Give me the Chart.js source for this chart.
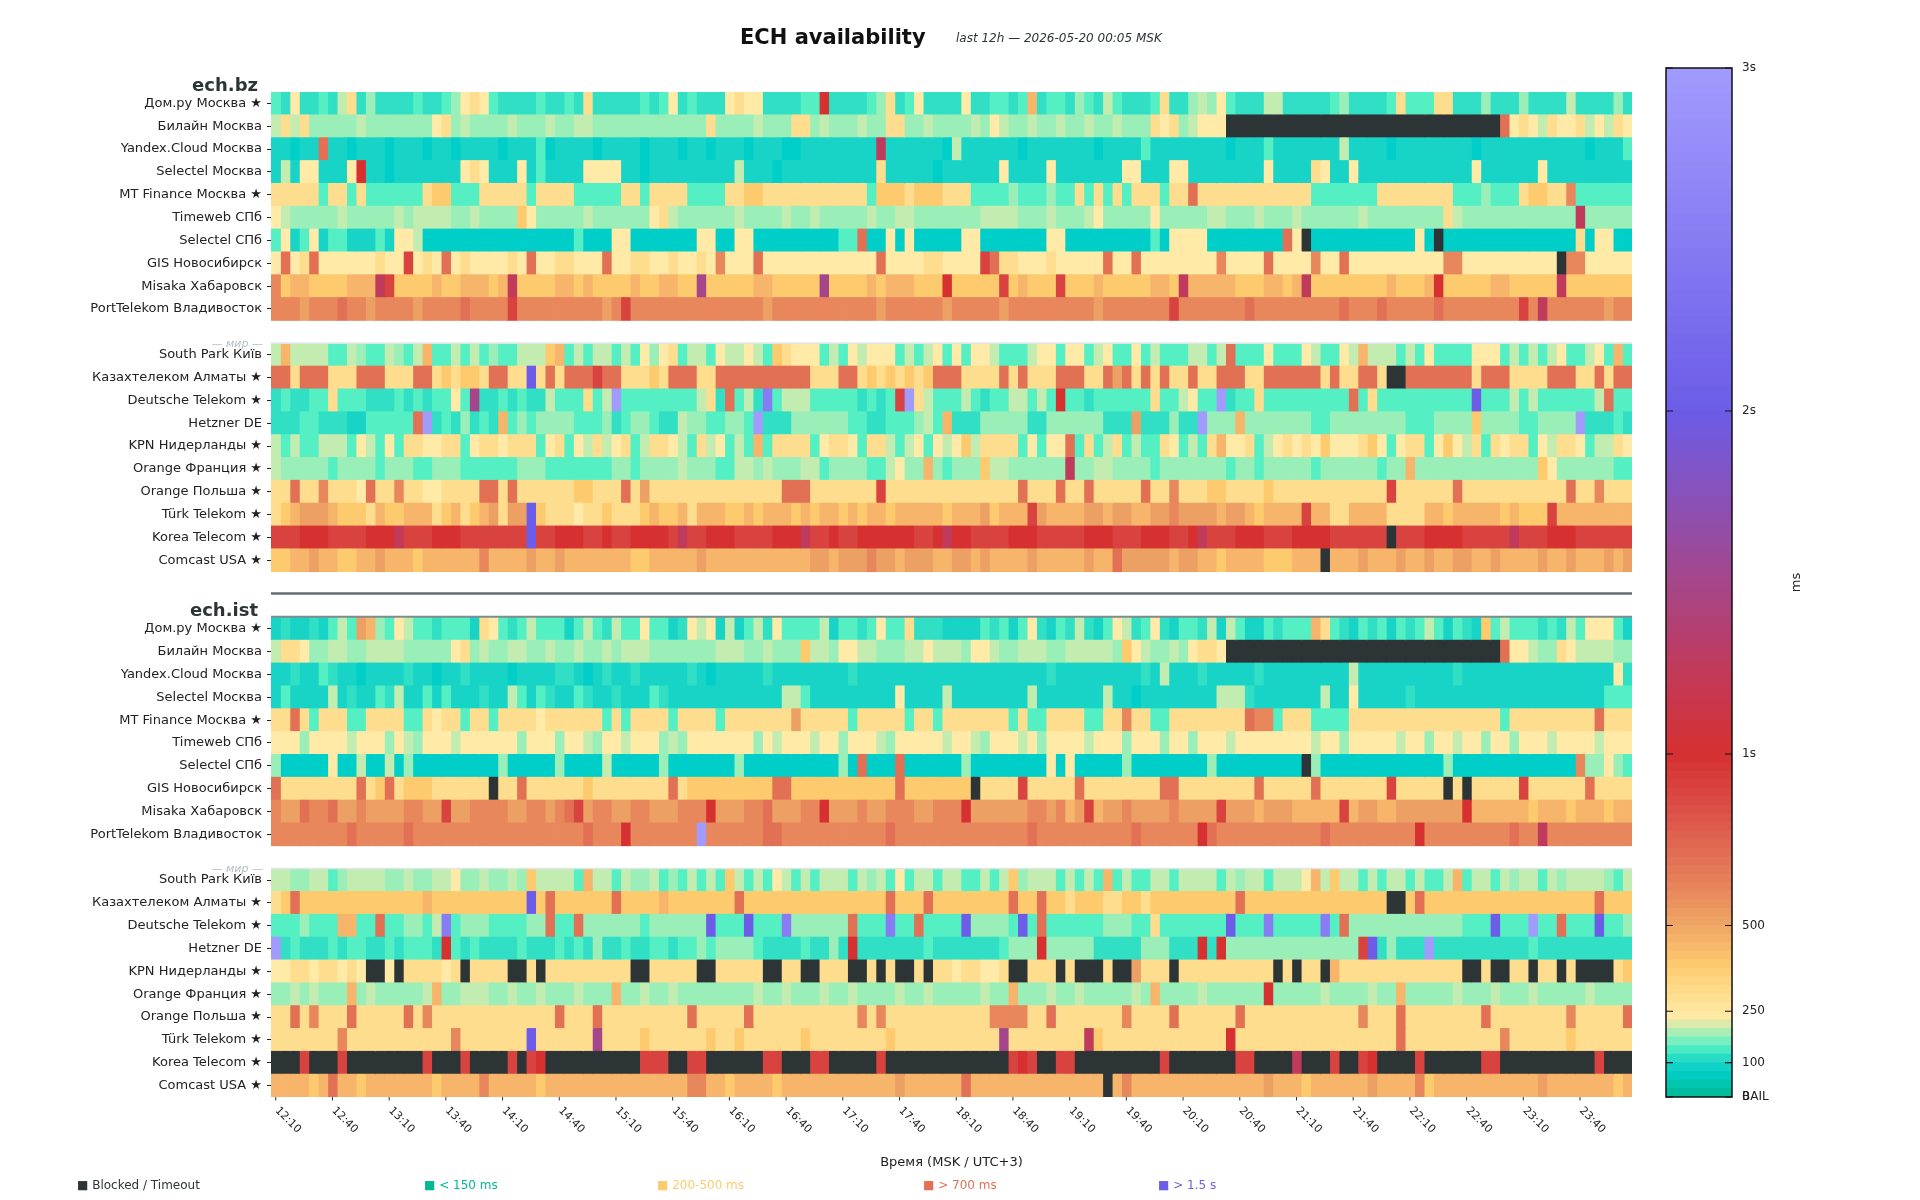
<!DOCTYPE html>
<html><head><meta charset="utf-8">
<script src="https://cdn.jsdelivr.net/npm/chart.js@4.4.1/dist/chart.umd.min.js"></script>
<style>
html,body{margin:0;padding:0;background:#fff;}
#wrap{position:relative;width:1920px;height:1200px;overflow:hidden;}
#main{position:absolute;left:0;top:0;}
#cbar{position:absolute;left:1560px;top:0;}
</style></head><body>
<div id="wrap"><canvas id="main" width="1920" height="1200"></canvas><canvas id="cbar" width="360" height="1200"></canvas></div>
<script>
// ---------------- DATA ----------------
const titleText = 'ECH availability';
const subtitleText = 'last 12h — 2026-05-20 00:05 MSK';
const xAxisTitle = 'Время (MSK / UTC+3)';
const separatorText = '— мир —';
const groupNames = ['ech.bz', 'ech.ist'];
const rowLabelsRU = ['Дом.ру Москва ★','Билайн Москва','Yandex.Cloud Москва','Selectel Москва','MT Finance Москва ★','Timeweb СПб','Selectel СПб','GIS Новосибирск','Misaka Хабаровск','PortTelekom Владивосток'];
const rowLabelsWorld = ['South Park Київ','Казахтелеком Алматы ★','Deutsche Telekom ★','Hetzner DE','KPN Нидерланды ★','Orange Франция ★','Orange Польша ★','Türk Telekom ★','Korea Telecom ★','Comcast USA ★'];
const nColumns = 144; // 5-minute slots from 12:10
const tickLabels = ['12:10','12:40','13:10','13:40','14:10','14:40','15:10','15:40','16:10','16:40','17:10','17:40','18:10','18:40','19:10','19:40','20:10','20:40','21:10','21:40','22:10','22:40','23:10','23:40'];
const tickColumns = [0,6,12,18,24,30,36,42,48,54,60,66,72,78,84,90,96,102,108,114,120,126,132,138];
// cell codes: X = blocked / timeout, letters = latency level
const levelCodes = 'abcdefghijklmnopqrst';
const levelMs = [70,95,120,145,180,200,230,300,380,450,520,600,700,900,1000,1250,1500,2000,2500,3000];

const bzRU = [
 'dcgccdcfhcec cccdccdeghgd ccccdccdchcc cccdcdgcdccc ghggccccddoc cccdehcdgccc cgccddcdjcdd cedcfdcccdhc cefegdcccffc ccccdeccccdh dddhhccceccc eccccfccccec',
 'fhfheeeeefee eeeeeghefeee efeeefeeffee eeeeeeeeeehe eeefeeehhefe eefeehheefee eefegfeefeef eefeefeeehgh efgggXXXXXXX XXXXXXXXXXXX XXXXXXXXXXmg hgfhgghfgfhg',
 'bbabbmbbabbb abbbabbabbbb abbbdabbbbab bbbabbbabbab bbabbbaabbbb bbbbpbbbbbba fbbbbbbabbbb bbbabbbbdbbb bbbbbabbbdbb bbbbbfbbbbab bbbbbbbabbbb bbbbbbbabbbd',
 'bfbggbbbgobb abbbbbbbghgb bbgbdbbbbggg gbbabbbbbbbb bfbbbabbbbbb bbbbhbbbbbab bbbbbgbbbbgb bbbbbbggbbbg gbbbbbbbbgbb bbhgbbgbbbbb bbbbbbbgbbbb bbgbbbbbbbbb',
 'hhhhhdhhdhdd ddddhiidddhh hhhdhhhhdddd dhhdhhhhdddd hhiihhhhhhhh hhhdiiihiiih hhddddeddded dhdhdhdhhhdh hmhhhhhhhhhh hhdddddddhhh hhhhhdddeddd hiihhldddddd',
 'gfeeeeefeeee efeffffeefee eeigeeeeefee eeeeghfeeeee efeeeefeefee eeefeeffeeee eeeffffeeefe eefgeeeeegee eeeffeeefeee feeeeeefeeee eeeehfeeeeee eeeeeepeeeee',
 'dgbdgbddbbbd bggfaaaaaaaa aaaaaaaadaaa ggaaaaaaagga aggaaaaaaaaa ddmaagagaaaa aggaaaaaaagg aaaaaaaaadag gggaaaaaaaam gXaaaaaaaaaa agaXaaaaaaaa aaaaaahaggaa',
 'gmghmggggggh ggnghgmghggg ghgmgghhgggm gghhgghgghgl gggmgggggggg ggggmgggghhg gggnmhhggghg ggggmggmgggg gggglggggmgg gglggmgggggg ggggllgggggg ggggXllggggg',
 'lijjiiiijjjp niiiijiijjji jpiiiijjijii iijiijjiiqii iiijjiiiiiqi iiijijjjiiio iiiiinijiiin iiijiiiiijji pjjjjjiiijji jpiiiiiiiiji iijoiiiiijji iiiipiiiiiii',
 'lllklllmllkl lllkllllmlll lnlllllllllk lnllllllllll llllklllllll llllkllllllk lllllkllllll lllkllllllln lllllllmllll lllllmlllmll lllmllllllll nlpllllllkll'
];
const bzWorld = [
 'fjffffddfedd fedfjddfdfde ddfffijdfdff dfdgeghdffdg ffgfdihgggdf dgfgggdfdfgd gdggfdddfggd ggdfgddgdfdd dffdfmdddgdd dgfddgfjfffd fdgddddgggdf dfdfgddfgdjd',
 'mmhmmmhhhmmm hhhmmhihiihm mhhrhmhmmmnm mhhhihmmmhhm mmmmmmmmmhhh mmhihihihimm mhhhhmhmhhhm mmhhmkmhmhmh hmhhmmmhhmmm mmmhmhhmmhXX mmmmmmmhmmmh hhhmmmhhmhmm',
 'cdccddhdddcc cdcdcddgdqcc dcdccfdddhdf tddddddddfhc mdfcsdfffddd ddcdcdnthfdd dfdcddffdfdo ddcddddddhdd fgddtcddhddd ddddddmdhddd dddddddrdddf dfddddddfmdd',
 'cccddcccbbdd dddmtcdcecdc jdedeeeeddde cdeedccfeedd eedtccceeeee eddccdddefdj ccceeeeeccee eeeeccckccce ccteeejeeeee eeddeeeeeeee dddeeeeieeee ddeeeetcccdc',
 'fdfddfffdgfd gdhhgghhdghh ghhhdghdgfhf ghdfhhgfdhfg dfdjdhhhhdgh hgdhhfdfgdgf gifhhhhdgdgg mdhdfhdfddhg dfdhjgghdfgh ghgiggghigdg hhdgigfhdhgh hdgfhhgdffhg',
 'feeeeedeeeed eeeddeeedddd ddeeeddddddd eedeeeefeeed dffefeeeffde eeeddfgeejed eeeiffeeeeee peeffeeeedee eeeeedeedeee eedeeeeeedee jeeeeeeeeeee eeigeeeeeedd',
 'hhmhhlhhhgmh hlhhgghhhhmm hmhhhhhhiihh hmhkhhhhhhhh hhhhhhmmmhhh hhhhnhhhhhhh hhhhhhhmhhhm hhmhhhhhmhhl hhhiihhhhihh hhhhhhhhhhnh hhhhhmhhhhhh hhhhhmhhlhhh',
 'hijkkkjiiihj iijjjhijhijk hkkrihhhghhi hhhijiijhjjj iijijjjijijj ijijjijjjjji jjjkijjjnkjj jjkkjkkjjkkl kkkkjkkjijjj jnjjhhjjjjhh hhjjijjjjjij iiinjjjjjjjj',
 'nnnooonnnnoo opnnnooonnnn nnnrnnooonno nnoooonpnnoo onnnnooopnno nnoooooonnop oonnnnooonnn nnooonnnooon nopnnnooonnn oooonnnnnnXn nnoooonnnnnp nnnooonnnnnn',
 'iijjkjjiijjk jjjijjjjjjlj jjjkjjkjjjjj jjiijjjjjkjj jjjjjjjjjkkj kkklkkjkkkjj kkjkjjjjkjjj jjkjjmkkkkkj kkjjijjjjiii jjjXjjjkjjjk jjkjjkkjjkjj jjkjjkjjjkjk'
];
const istRU = [
 'bcbbcbdfdkje dgfddcdddbhg dcdfdddbdfdc fddgddbcgfgb fbdfcgddddfb ddcdgddhcccb bbbdcdbdgcbd cfcbdgfcdgcb ddcfbfdbbdcd ddjhdcbdcdbd cdfdbdcbidfd ddcdcfdgggdb',
 'fhhgeeffeeff ffeeeeeghefe effeefeefeef efffeeeeeeef ffeefeeeiffe ggffeeeffgff feggfeefffee fffffeigfeef eghhgXXXXXXX XXXXXXXXXXXX XXXXXXXXXXmg gfeehgffffee',
 'bbcbbdcbbabb bbcbbabbcbbb babbbbccbabc bbcbbbbbcbab bbbbcbbbbbbb bcbbbbbbbbbb bbbbbbbbbbcb bbbbbbbbcbfb bbcbbbbbcbbb bbbbbbfbbbbb bbbbbcbbbbbb bbbbbbbbbbgc',
 'bdbbbbfbcbbd cfbbdbdbbbcb bfdbdcbbdcbb cbbbdcbbbbbb bbbbbbffdbbb bbbbbbgbbbbf bbbbbbbbfbbb bbbbfbbabbbb bbbbfffcbbbb bbbfbbgbbbbb cbbbbbbbbbbb bbbbbbbbbddd',
 'hhmhdhhhddhh hhddhghhdhhd hhhhghhhhhhd hdhhhhdhhhhd hhhhhhhkhhhh hdhhhhhdhhdh hhhhhhdhddhh hhddhhlhhddh hhhhhhhmlldh hhddddhhhhhh hhhhhhhhhhdh hhhhhhhhmhhh',
 'gggeggggfggg egfegggfgggg ggegggeggfeg gfgggefegggg gggegfgggfgg egggfegggggf ggfegggfgegg ggfgggegggeg gegggfgggggg ggfggegggggf ggeggfggegge gggfggggfggg',
 'eaaaaagaafaa faeaaaaaaaaa eaaaaaeaaaaf aaaaaeaaaaaa aeaaaaaaaaaa eamaaamaaaaa aeaaaaaaaaga gaaaaaeaaaaa aaaeaaaaaaaa aXeaaaaaaaaa aaaaeaaaaaaa aaaaaaleeged',
 'mhhhhhhhhmhi mhiiihhhhhhX hhmhhhhhhihh hhhhhhmhiiii iiiiimmiiiii iiiiiimiiiii iiXhhhhnhhhh hmhhhhhhhhmm hhhhhhhhmhhh hhmhhhhhhhnh hhhhXhXhhhhh nhhhhhhmhhhh',
 'lkkmllmkklkk kkllkknkklll lkkllklmnkll kkllkkklllok kkllmkkkllok kklkklllkkll lokkkkkkllkl jknjkklkkkkl kkkknkkkjkkk jjjjjnjkkjjk kkkkkkojjjjj jijjjijjjijj',
 'llllllllmlll llmlllllllll lllllllllmll lollllllltll llllmmllllll lllllmllllll llllllllmlll lllllllmllll llomllllllll lllmllllllll lolllllllllm llplllllllll'
];
const istWorld = [
 'ffeeffdeffff eefeeffgeefe efeiffffdjff dfeefdedfdfd ifdfdgfdfdff fdfefdgdffdf fddfdfiefffd fdfdjdfddffd ffffdfeffdff fgjfiffdfdff dfddfjdffdfe ffdfeffffedf',
 'himiiiiiiiii iiiijiiiiiii iiirimiiiiii miiiijiiiiii imiiiiiiiiii iiiiimiiimii iiiiiimiimii hiiihhiihiii iiiiiimiiiii iiiiiiiiiiXX imiiiiiiiiii iiiiiiiimiii',
 'dddedddjjddm ddeedfsdeeed dddeemddmeee eeedeeeeeerd ddrdddseeeee emdddsddmddd dreeeedrdmdd ddddeeeddhdd dddddrdddsdd dddsdmeeeeee eeeeeedddrdd dtddmdddrdde',
 'tcdcccdcddcc dcdddcodcdcc ccdcccdcdcec cdccddcddede eeedccccdcce cocccccccdcc cccccdeeeoee eeeccccceeec ccocoeeeeeee eeeeeeenrcec cctccccccccc cdcccccccccc',
 'gghhghhghgXX gXhhhhghXhhh hXXhXhhhhhhh hhXXhhhhhXXh hhhhXXhhXXhh hXXhXhXXhXhh ghhgghXXhhhX hXXXhXXkhhhX hhhhhhhhhhXh XhhXjhhhhhhh hhhhhhXXhXXh hXhhXhXXXXhi',
 'eefefeeejefe eeeefjeefffe efeefeeefeee jeefeefeeeee eeefeefeeefe efeeeefeefee eeefeejeeefe efeeeeefejee eefeeeeeeoee eeefeeeefeej eeeeefeeefee efeeeeefeeee',
 'hhmhlhhhmhhh hhmhlhhhhhhh hhhhhhmhhhmh hhhhhhhhmhhh hhmhhhhhhhhh hhlhlhhhhhhh hhhhllllhhmh hhhhhhlhhhhm hhhhhhmhhhhh hhhhhhhlhhhm hhhhhhhhmhhh hhhhhlhhhhhm',
 'hhhhhhhlhhhh hhhhhhhlhhhh hhhrhhhhhhqh hhhihhhhhhih hihhhhhhihhh hhhhhihhhhhh hhhhhqhhhhhh hhpihhhhhhhh hhhhhohhhhhh hhhhhhhhhhhm hhhhhhhhhhlh hhhhhihhhhhh',
 'XXXnXXXnXXXX XXXXnXXXnXXX XnXnoXXXXXXX XXXnnnXXnnXX XXXXnnXXXnnX XXXXnXXXXXXX XXXXXXnonXXn nXXXXXXXXXnX XXXXXXnnXXXX pXXXnXXnoXXX XnXXXXXXnnXX XXXXXXXXnXXX',
 'jjjjijmjjijj jjjjjijjjjlj jjjjijjjjjjj jjjjjjjjlljj ijjjjijjjjjj jjjjjjkjjjjj jmjjjjjjjjjj jjjjXjljjjjj jjjjjjjjjkjj jijjjjjjkjjj jlijjjjjjjjj jjkjjjjjjjij'
];
const cbTicks = [0,100,250,500,1000,2000,3000];
const cbTickLabels = ['BAIL','100','250','500','1s','2s','3s'];
const cmapStops = [[0,'#00b894'],[40,'#00c7b0'],[70,'#00cec9'],[100,'#1dd5c6'],[125,'#35e2c4'],[145,'#55efc4'],[170,'#86efbd'],[195,'#b9ecb1'],[230,'#ffeaa7'],[300,'#fedd8e'],[380,'#fdcb6e'],[450,'#f6b56a'],[520,'#eda063'],[600,'#e8875b'],[700,'#e17055'],[850,'#db4c46'],[1000,'#d63031'],[1250,'#c03a5c'],[1500,'#a5468a'],[2000,'#6c5ce7'],[3000,'#a29bfe']];
const blockedColor = '#2d3436';
const legendLabels = ['Blocked / Timeout','< 150 ms','200-500 ms','> 700 ms','> 1.5 s'];
const legendColors = ['#2d3436','#00b894','#fdcb6e','#e17055','#6c5ce7'];

// ---------------- LAYOUT ----------------
const FONT = '"DejaVu Sans", "Liberation Sans", sans-serif';
const legendX = [77, 424, 657, 923, 1158];

function hexRgb(h){ h=h.replace('#',''); return [parseInt(h.substr(0,2),16),parseInt(h.substr(2,2),16),parseInt(h.substr(4,2),16)]; }
function cmap(v){
  if (v <= cmapStops[0][0]) return cmapStops[0][1];
  for (let i=1;i<cmapStops.length;i++){
    if (v <= cmapStops[i][0]){
      const [v0,c0]=cmapStops[i-1], [v1,c1]=cmapStops[i];
      const t=(v-v0)/(v1-v0), a=hexRgb(c0), b=hexRgb(c1);
      const r=a.map((x,j)=>Math.round(x+(b[j]-x)*t));
      return 'rgb('+r.join(',')+')';
    }
  }
  return cmapStops[cmapStops.length-1][1];
}
function clean(s){ s=s.replace(/\s+/g,''); while(s.length<nColumns) s+=s[s.length-1]; return s.slice(0,nColumns); }
function cellColor(code){ if(code==='X') return blockedColor; const i=levelCodes.indexOf(code); return cmap(levelMs[i<0?0:i]); }

const rows = [];
function addGroup(ru, world){
  ru.forEach((s,i)=>rows.push({label:rowLabelsRU[i], codes:clean(s)}));
  rows.push({label:'', codes:null});
  world.forEach((s,i)=>rows.push({label:rowLabelsWorld[i], codes:clean(s)}));
}
addGroup(bzRU, bzWorld);
rows.push({label:'',codes:null}); rows.push({label:'',codes:null});
const istStart = rows.length;
addGroup(istRU, istWorld);
const worldStarts = [11, istStart+11];
const groupStarts = [0, istStart];

const datasets = [];
for (let k=0;k<nColumns;k++){
  datasets.push({
    data: rows.map(r => r.codes ? [k, k+1] : null),
    backgroundColor: rows.map(r => r.codes ? cellColor(r.codes[k]) : 'rgba(0,0,0,0)'),
    borderWidth: 0, barPercentage: 1, categoryPercentage: 1, grouped: false, inflateAmount: 0.4
  });
}

const deco = {
  id: 'deco',
  afterDraw(chart){
    const {ctx, chartArea:a, scales} = chart; const x=scales.x, y=scales.y;
    const rowH = (a.bottom - a.top) / rows.length;
    const rowTop = i => y.getPixelForValue(i) - rowH/2;
    ctx.save();
    // title
    ctx.fillStyle = '#111'; ctx.textAlign='left'; ctx.textBaseline='alphabetic';
    ctx.font = 'bold 21px ' + FONT; ctx.fillText(titleText, 740, 44);
    ctx.fillStyle = '#2d3436';
    ctx.font = 'italic 12px ' + FONT; ctx.fillText(subtitleText, 956, 42);
    // group titles
    ctx.font = 'bold 18px ' + FONT; ctx.textAlign='right'; ctx.fillStyle='#2d3436';
    groupStarts.forEach((g,i)=>{ ctx.fillText(groupNames[i], 258, rowTop(g) - 1); });
    // world separators
    worldStarts.forEach(w=>{
      const yy = rowTop(w);
      ctx.strokeStyle = '#dfe6e9'; ctx.lineWidth = 1.5;
      ctx.beginPath(); ctx.moveTo(a.left, yy); ctx.lineTo(a.right, yy); ctx.stroke();
      ctx.fillStyle = '#b2bec3'; ctx.font = 'italic 11px ' + FONT; ctx.textAlign='right'; ctx.textBaseline='middle';
      ctx.fillText(separatorText, 263, yy + 1);
    });
    // group divider lines
    ctx.strokeStyle = '#636e72'; ctx.lineWidth = 2.5;
    let yd = rowTop(istStart - 1) - 1;
    ctx.beginPath(); ctx.moveTo(a.left, yd); ctx.lineTo(a.right, yd); ctx.stroke();
    ctx.strokeStyle = '#7f8c8d'; ctx.lineWidth = 2;
    yd = rowTop(istStart) - 0.5;
    ctx.beginPath(); ctx.moveTo(a.left, yd); ctx.lineTo(a.right, yd); ctx.stroke();
    // x ticks + labels
    ctx.strokeStyle = '#333'; ctx.lineWidth = 1; ctx.fillStyle = '#222';
    ctx.font = '11px ' + FONT; ctx.textAlign='left'; ctx.textBaseline='top';
    tickLabels.forEach((t,i)=>{
      const px = x.getPixelForValue(tickColumns[i] + 0.5);
      ctx.beginPath(); ctx.moveTo(px, a.bottom); ctx.lineTo(px, a.bottom + 3.5); ctx.stroke();
      ctx.save(); ctx.translate(px + 5, a.bottom + 8); ctx.rotate(Math.PI/4); ctx.fillText(t, 0, 0); ctx.restore();
    });
    // x title
    ctx.font = '13px ' + FONT; ctx.textAlign='center'; ctx.textBaseline='middle'; ctx.fillStyle='#222';
    ctx.fillText(xAxisTitle, (a.left + a.right)/2, 1163);
    // legend
    ctx.font = '12px ' + FONT; ctx.textAlign='left'; ctx.textBaseline='middle';
    legendLabels.forEach((l,i)=>{ ctx.fillStyle = legendColors[i]; ctx.fillText('■ ' + l, legendX[i], 1186); });
    ctx.restore();
  }
};

new Chart(document.getElementById('main'), {
  type: 'bar',
  data: { labels: rows.map(r=>r.label), datasets },
  options: {
    indexAxis: 'y', responsive: false, animation: false, devicePixelRatio: 1,
    layout: { padding: { left: 0, right: 288, top: 92, bottom: 103 } },
    plugins: { legend: {display:false}, tooltip: {enabled:false} },
    scales: {
      x: { type: 'linear', min: 0, max: nColumns, display: false },
      y: { type: 'category', offset: true,
           afterFit: s => { s.width = 271; },
           ticks: { autoSkip: false, padding: 5, color: '#222', font: { family: FONT, size: 13 } },
           grid: { display: true, drawOnChartArea: false, drawTicks: true, tickLength: 4, offset: false, lineWidth: 1,
                   color: c => (rows[c.index] && rows[c.index].label) ? '#222' : 'rgba(0,0,0,0)' },
           border: { display: false } }
    }
  },
  plugins: [deco]
});

// ---------------- COLORBAR ----------------
const cbSets = [];
for (let v=0; v<3000; v+=25){
  cbSets.push({ data: [[v, v+25]], backgroundColor: cmap(v+12.5), borderWidth: 0, barPercentage: 1, categoryPercentage: 1, grouped: false, inflateAmount: 0.4 });
}
const cbDeco = {
  id: 'cbDeco',
  afterDraw(chart){
    const {ctx, chartArea:a, scales} = chart; const y = scales.y;
    ctx.save();
    ctx.strokeStyle = '#111'; ctx.lineWidth = 1.5;
    ctx.strokeRect(a.left, a.top, a.right - a.left, a.bottom - a.top);
    ctx.lineWidth = 1.2;
    cbTicks.forEach(v=>{
      const yy = y.getPixelForValue(v);
      ctx.beginPath(); ctx.moveTo(a.left, yy); ctx.lineTo(a.left + 7, yy); ctx.moveTo(a.right - 7, yy); ctx.lineTo(a.right, yy); ctx.stroke();
    });
    ctx.fillStyle = '#222'; ctx.font = '12px ' + FONT; ctx.textAlign = 'left'; ctx.textBaseline = 'middle';
    ctx.fillText('0', a.right + 10, y.getPixelForValue(0));
    ctx.font = '13px ' + FONT; ctx.textAlign = 'center';
    ctx.translate(237, (a.top + a.bottom)/2); ctx.rotate(-Math.PI/2); ctx.fillText('ms', 0, 0);
    ctx.restore();
  }
};
new Chart(document.getElementById('cbar'), {
  type: 'bar',
  data: { labels: [''], datasets: cbSets },
  options: {
    responsive: false, animation: false, devicePixelRatio: 1,
    layout: { padding: { left: 106, right: 0, top: 68, bottom: 103 } },
    plugins: { legend: {display:false}, tooltip: {enabled:false} },
    scales: {
      x: { display: false },
      y: { position: 'right', min: 0, max: 3000,
           afterFit: s => { s.width = 188; },
           afterBuildTicks: s => { s.ticks = cbTicks.map(v => ({ value: v })); },
           ticks: { padding: 10, color: '#222', font: { family: FONT, size: 12 }, callback: (v, i) => cbTickLabels[i] },
           grid: { display: false, drawTicks: false },
           border: { display: false } }
    }
  },
  plugins: [cbDeco]
});
</script>
</body></html>
